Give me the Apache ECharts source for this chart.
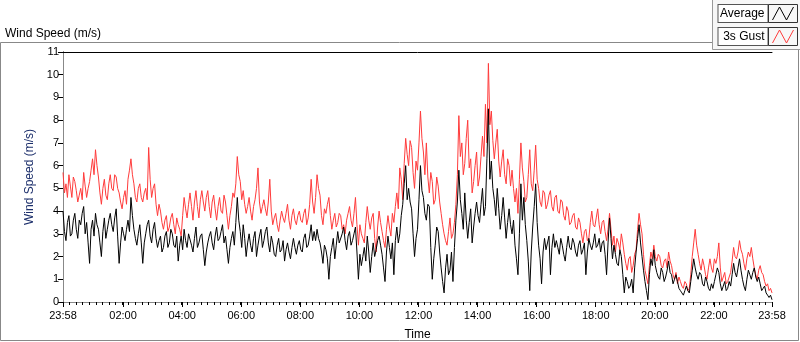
<!DOCTYPE html>
<html>
<head>
<meta charset="utf-8">
<title>Wind Speed</title>
<script src="https://cdn.jsdelivr.net/npm/echarts@6/dist/echarts.min.js"></script>
<style>
  html, body { margin: 0; padding: 0; background: #fff; }
  #chart { width: 800px; height: 342px; }
</style>
</head>
<body>
<div id="chart"></div>
<script>
// one sample every 3 minutes, starting at 23:58
var sampleStep = 3;

// 3s gust (m/s)
var gust = [
  5.7, 4.8, 5.2, 4.6, 5.6, 5.1, 4.6, 5.5, 5.3, 4.9, 4.4, 4.7, 5.0, 4.5, 5.7, 5.1, 4.6, 5.0, 5.3, 5.8,
  6.3, 5.6, 6.7, 6.0, 5.5, 4.8, 4.3, 5.0, 5.4, 4.7, 4.5, 5.2, 5.6, 5.0, 4.9, 5.6, 5.5, 5.0, 4.8, 4.4,
  4.1, 4.6, 4.9, 4.3, 5.4, 5.8, 6.3, 5.6, 5.2, 4.6, 4.4, 5.0, 5.2, 4.6, 4.4, 4.8, 5.0, 4.5, 6.8, 5.4,
  4.6, 5.0, 5.2, 4.3, 3.8, 4.3, 4.0, 3.5, 3.2, 3.6, 3.8, 3.1, 3.3, 3.7, 3.9, 3.4, 3.0, 3.7, 3.4, 3.2,
  2.9, 3.8, 4.6, 4.1, 3.7, 4.3, 4.8, 4.2, 3.6, 4.4, 4.9, 4.2, 3.7, 4.5, 4.9, 4.4, 4.0, 4.6, 4.9, 4.2,
  3.7, 4.4, 4.7, 4.1, 3.6, 4.2, 4.6, 4.0, 3.9, 4.7, 4.4, 3.8, 3.2, 3.8, 4.2, 4.8, 4.6, 5.2, 6.4, 5.6,
  5.3, 4.5, 4.9, 4.3, 3.9, 4.2, 4.6, 4.0, 3.6, 4.2, 4.5, 5.0, 5.9, 4.4, 3.9, 4.2, 4.5, 4.1, 3.8, 4.4,
  5.4, 4.0, 3.4, 3.7, 3.9, 3.4, 3.1, 3.6, 4.0, 3.7, 3.5, 3.9, 4.3, 3.6, 3.2, 3.8, 4.1, 3.6, 3.4, 3.8,
  4.0, 3.6, 3.5, 3.9, 4.1, 3.4, 3.7, 4.3, 5.4, 4.4, 3.9, 4.6, 5.6, 5.0, 4.7, 3.8, 3.4, 4.1, 3.9, 4.3,
  4.6, 3.8, 3.2, 3.6, 3.9, 3.3, 3.5, 3.9, 3.8, 3.2, 3.4, 3.0, 3.6, 3.9, 4.2, 3.6, 3.3, 3.9, 4.6, 3.4,
  2.5, 3.4, 3.0, 2.8, 2.6, 3.5, 4.2, 3.6, 3.2, 3.7, 3.9, 2.8, 2.2, 3.3, 4.0, 3.5, 3.1, 2.7, 2.4, 3.2,
  3.8, 3.3, 2.9, 3.9, 3.5, 4.2, 4.8, 4.1, 5.9, 5.4, 4.5, 6.1, 7.2, 6.5, 6.0, 7.1, 6.8, 5.7, 5.0, 6.2,
  5.8, 7.0, 8.4, 7.2, 6.6, 5.6, 7.0, 5.5, 4.8, 5.7, 5.3, 4.3, 4.5, 5.5, 5.1, 4.4, 3.9, 3.4, 3.0, 2.7,
  2.5, 3.1, 3.7, 2.8, 3.0, 3.5, 4.3, 5.6, 8.2, 6.4, 7.0, 5.6, 6.1, 7.2, 8.0, 5.9, 6.3, 4.8, 5.3, 6.0,
  6.6, 5.1, 5.5, 6.4, 7.3, 6.4, 8.7, 7.0, 10.5, 7.8, 8.4, 7.1, 6.3, 7.0, 7.6, 6.2, 5.5, 6.2, 6.7, 5.6,
  5.2, 6.3, 6.0, 5.1, 5.8, 5.0, 4.4, 5.0, 3.9, 5.4, 7.0, 5.9, 5.3, 4.4, 4.6, 5.6, 6.7, 5.2, 4.9, 5.8,
  6.9, 5.4, 5.0, 4.4, 4.2, 4.9, 4.8, 4.1, 4.3, 4.7, 4.9, 4.2, 4.0, 4.6, 4.7, 4.0, 3.9, 4.5, 4.4, 3.8,
  3.6, 4.2, 4.0, 3.4, 3.5, 3.8, 3.9, 3.3, 3.2, 3.7, 3.5, 3.0, 2.6, 3.1, 3.2, 2.7, 2.8, 3.5, 4.0, 3.4,
  3.3, 3.7, 4.1, 3.4, 3.0, 3.5, 3.6, 3.1, 2.7, 3.2, 3.9, 3.2, 2.5, 2.9, 2.2, 2.8, 2.6, 2.3, 3.0, 2.6,
  2.1, 1.7, 1.4, 1.9, 2.0, 1.3, 1.6, 2.1, 2.3, 3.2, 3.9, 3.4, 3.0, 2.1, 1.4, 1.1, 0.8, 1.6, 2.2, 1.9,
  2.5, 2.0, 1.8, 2.1, 2.0, 1.6, 1.5, 1.8, 1.9, 1.5, 2.2, 1.8, 1.6, 1.2, 1.0, 1.3, 0.8, 1.1, 0.9, 0.7,
  0.6, 0.9, 0.8, 0.5, 0.6, 1.2, 2.0, 2.6, 3.2, 2.5, 2.1, 1.7, 1.4, 1.9, 1.6, 1.2, 1.0, 1.5, 1.9, 1.5,
  1.3, 1.9, 1.7, 2.0, 2.6, 1.5, 0.9, 1.1, 1.3, 0.8, 0.9, 1.1, 1.3, 1.8, 2.4, 2.0, 1.9, 2.2, 2.7, 2.3,
  2.1, 1.7, 1.4, 1.9, 2.2, 2.0, 2.4, 1.9, 1.5, 1.2, 1.0, 1.4, 1.6, 1.3, 1.2, 0.9, 0.7, 0.8, 0.5, 0.6, 0.4
];

// average (m/s)
var average = [
  4.0, 3.1, 2.7, 3.5, 3.8, 2.9, 3.0, 3.6, 3.9, 3.2, 2.8, 3.6, 3.4, 3.9, 4.2, 3.0, 3.5, 2.6, 1.7, 3.2,
  3.6, 2.9, 3.9, 3.4, 3.2, 2.6, 2.0, 3.1, 3.7, 2.8, 3.2, 3.6, 3.9, 3.4, 3.1, 3.7, 4.1, 2.9, 1.7, 2.6,
  3.3, 3.0, 2.7, 3.2, 3.6, 3.1, 4.6, 3.8, 3.2, 2.8, 2.5, 3.0, 3.4, 2.6, 1.7, 2.6, 3.0, 3.4, 3.6, 2.9,
  2.6, 3.2, 3.5, 2.8, 2.4, 2.7, 2.9, 2.2, 2.4, 2.9, 3.1, 2.4, 2.6, 3.2, 3.0, 2.5, 2.4, 2.9, 1.8, 2.5,
  2.9, 2.3, 3.2, 2.7, 2.4, 3.0, 3.0, 2.5, 2.2, 2.8, 3.3, 2.4, 2.6, 2.9, 3.0, 2.3, 1.6, 2.2, 2.6, 2.9,
  3.1, 2.6, 2.3, 2.9, 3.3, 2.7, 2.8, 3.1, 3.4, 2.6, 2.9, 2.3, 1.7, 2.4, 2.8, 3.1, 2.5, 3.5, 4.6, 3.6,
  3.1, 2.4, 3.4, 2.8, 2.0, 2.6, 3.0, 2.5, 2.2, 2.8, 3.1, 2.0, 2.5, 2.9, 3.2, 2.4, 2.7, 3.1, 3.3, 2.6,
  2.2, 2.9, 2.6, 2.1, 2.0, 2.5, 2.8, 2.2, 2.3, 2.7, 1.8, 2.3, 2.6, 2.2, 1.9, 2.4, 2.8, 2.4, 2.1, 2.5,
  2.7, 2.3, 2.2, 2.8, 3.0, 2.4, 2.5, 2.9, 3.4, 2.7, 3.1, 2.7, 3.2, 2.8, 2.6, 2.2, 1.7, 2.5, 2.3, 1.9,
  1.0, 2.0, 2.4, 2.8, 1.9, 2.5, 3.1, 2.6, 2.6, 3.0, 3.3, 2.7, 2.3, 2.9, 3.1, 2.5, 2.7, 3.0, 3.3, 2.2,
  1.0, 2.1, 1.6, 2.0, 2.4, 1.8, 2.9, 2.2, 1.3, 2.0, 2.6, 2.0, 2.3, 2.7, 2.9, 2.5, 2.1, 1.5, 0.9, 2.2,
  2.9, 2.4, 1.9, 2.6, 1.2, 2.7, 3.3, 2.6, 3.0, 3.8, 4.3, 5.2, 6.0, 4.5, 5.0, 4.4, 4.1, 3.0, 2.0, 2.8,
  3.2, 4.5, 6.0, 4.9, 4.6, 3.9, 3.6, 4.3, 4.2, 2.4, 1.0, 1.9, 2.5, 3.3, 3.1, 2.2, 1.5, 0.9, 0.4, 1.5,
  2.1, 1.2, 1.4, 2.2, 0.9, 2.4, 3.6, 4.4, 5.8, 4.5, 3.9, 3.2, 4.8, 3.6, 2.8, 3.5, 4.1, 2.6, 3.3, 3.9,
  4.4, 3.8, 3.5, 4.3, 5.0, 3.8, 4.2, 6.3, 8.5, 5.4, 6.2, 5.0, 4.5, 3.8, 5.0, 4.1, 3.2, 3.8, 4.6, 3.7,
  2.8, 3.5, 4.1, 3.4, 3.0, 3.6, 2.5, 1.9, 1.2, 3.0, 5.2, 3.6, 4.6, 3.4, 2.7, 1.8, 0.5, 2.2, 3.3, 4.2,
  5.2, 3.5, 2.5, 1.9, 0.8, 2.2, 2.8, 2.3, 2.3, 2.9, 1.2, 2.4, 3.0, 2.4, 2.7, 2.4, 2.1, 2.8, 2.5, 2.1,
  1.8, 2.4, 2.9, 2.4, 2.3, 2.8, 2.6, 2.2, 2.0, 2.5, 2.7, 2.1, 2.3, 2.6, 1.2, 2.2, 2.8, 2.5, 2.3, 2.6,
  3.0, 2.4, 2.5, 2.8, 2.2, 2.6, 2.7, 2.1, 1.2, 2.6, 3.7, 2.8, 1.9, 2.5, 2.1, 1.7, 1.6, 2.3, 2.0, 1.2,
  0.4, 1.1, 0.9, 0.6, 0.7, 1.0, 0.4, 1.5, 2.2, 2.8, 3.4, 2.6, 2.0, 1.4, 0.9, 0.5, 0.1, 1.2, 1.9, 1.6,
  2.3, 1.6, 1.3, 1.1, 1.0, 1.5, 1.3, 0.9, 1.1, 1.4, 1.8, 1.3, 1.2, 0.8, 1.0, 1.2, 0.9, 0.6, 0.5, 0.4,
  0.3, 0.5, 0.7, 0.5, 0.4, 0.9, 1.4, 1.9, 1.5, 1.2, 1.0, 1.3, 1.2, 0.8, 0.7, 1.1, 0.9, 0.6, 0.5, 0.8,
  0.6, 0.9, 1.2, 1.5, 1.3, 0.8, 0.5, 0.7, 0.9, 0.5, 0.6, 0.9, 0.7, 1.2, 1.7, 1.3, 1.1, 1.5, 1.9, 1.4,
  1.0, 0.7, 0.5, 1.0, 1.4, 1.2, 1.0, 1.3, 1.5, 1.1, 0.9, 1.1, 0.8, 0.5, 0.6, 0.7, 0.4, 0.3, 0.2, 0.3, 0.1
];

// x tick labels and their position in minutes after 23:58
var tickLabels = ['23:58', '02:00', '04:00', '06:00', '08:00', '10:00', '12:00',
                  '14:00', '16:00', '18:00', '20:00', '22:00', '23:58'];
var tickMinutes = [0, 122, 242, 362, 482, 602, 722, 842, 962, 1082, 1202, 1322, 1440];

var totalMinutes = 1440;
var minorTicks = [];
for (var k = 0; k <= 108; k++) minorTicks.push(k * totalMinutes / 108);

function toPairs(arr) {
  return arr.map(function (v, i) { return [i * sampleStep, v]; });
}

var font = 'Liberation Sans';
var chart = echarts.init(document.getElementById('chart'));

var option = {
  animation: false,
  backgroundColor: '#fff',
  textStyle: { fontFamily: font },
  title: {
    text: 'Wind Speed (m/s)',
    left: 0,
    top: 23,
    textStyle: { fontFamily: font, fontSize: 12, fontWeight: 'normal', color: '#000' }
  },
  graphic: [
    { type: 'rect', silent: true, z: -1,
      shape: { x: 0.5, y: 42.5, width: 798, height: 298 },
      style: { fill: '#fff', stroke: '#888', lineWidth: 1 } },
    { type: 'rect', silent: true, z: 0,
      shape: { x: 712.5, y: -1, width: 90, height: 50.5 },
      style: { fill: '#f7f7f7', stroke: '#999', lineWidth: 1 } },
    // frames round the legend icons
    { type: 'rect', silent: true, z: 200,
      shape: { x: 768.5, y: 4.5, width: 29, height: 18 },
      style: { fill: 'none', stroke: '#333', lineWidth: 1 } },
    { type: 'rect', silent: true, z: 200,
      shape: { x: 768.5, y: 27.5, width: 29, height: 18 },
      style: { fill: 'none', stroke: '#333', lineWidth: 1 } }
  ],
  legend: {
    orient: 'vertical',
    right: 6,
    top: 4,
    padding: 0,
    align: 'right',
    itemGap: 4,
    itemWidth: 21,
    itemHeight: 13,
    icon: 'path://M0,13L7,0L14,13L21,0',
    textStyle: {
      fontFamily: font, fontSize: 12, color: '#000', lineHeight: 14,
      backgroundColor: '#fff', borderColor: '#555', borderWidth: 1,
      padding: [2, 3, 1, 3], width: 43
    },
    data: [
      { name: 'Average', itemStyle: { color: 'transparent', borderColor: '#000', borderWidth: 1 } },
      { name: '3s Gust', itemStyle: { color: 'transparent', borderColor: '#ff3b3b', borderWidth: 1 } }
    ]
  },
  grid: { left: 63, right: 28, top: 52, bottom: 40, outerBoundsMode: 'none' },
  xAxis: [
    {
      type: 'value', min: 0, max: totalMinutes,
      name: 'Time', nameLocation: 'middle', nameGap: 27,
      nameTextStyle: { fontFamily: font, fontSize: 12, color: '#000' },
      axisLine: { show: true, lineStyle: { color: '#888', width: 1 } },
      axisTick: { show: true, customValues: tickMinutes, length: 5, lineStyle: { color: '#000' } },
      axisLabel: {
        customValues: tickMinutes, fontFamily: font, fontSize: 11, color: '#000', margin: 8,
        formatter: function (v) { return tickLabels[tickMinutes.indexOf(v)]; }
      },
      splitLine: { show: false }
    },
    {
      type: 'value', min: 0, max: totalMinutes, position: 'bottom',
      axisLine: { show: false },
      axisTick: { show: true, customValues: minorTicks, length: 3, lineStyle: { color: '#000' } },
      axisLabel: { show: false },
      splitLine: { show: false }
    },
    {
      type: 'value', min: 0, max: totalMinutes, position: 'top',
      axisLine: { show: true, lineStyle: { color: '#000', width: 1 } },
      axisTick: { show: false }, axisLabel: { show: false }, splitLine: { show: false }
    }
  ],
  yAxis: [
    {
      type: 'value', min: 0, max: 11, interval: 1,
      name: 'Wind Speed (m/s)', nameLocation: 'middle', nameGap: 26, nameRotate: 90,
      nameTextStyle: { fontFamily: font, fontSize: 12, color: '#1c2f6b' },
      axisLine: { show: true, lineStyle: { color: '#000', width: 1 } },
      axisTick: { show: true, length: 5, lineStyle: { color: '#000' } },
      axisLabel: { fontFamily: font, fontSize: 11, color: '#000', margin: 4 },
      splitLine: { show: false }
    },
    {
      type: 'value', min: 0, max: 11, position: 'right',
      axisLine: { show: true, lineStyle: { color: '#888', width: 1 } },
      axisTick: { show: false }, axisLabel: { show: false }, splitLine: { show: false }
    }
  ],
  series: [
    {
      name: '3s Gust',
      type: 'line',
      showSymbol: false,
      symbol: 'none',
      lineStyle: { color: '#ff3b3b', width: 1 },
      itemStyle: { color: '#ff3b3b' },
      data: toPairs(gust)
    },
    {
      name: 'Average',
      type: 'line',
      showSymbol: false,
      symbol: 'none',
      lineStyle: { color: '#000', width: 1 },
      itemStyle: { color: '#000' },
      data: toPairs(average)
    }
  ]
};

chart.setOption(option);
</script>
</body>
</html>
